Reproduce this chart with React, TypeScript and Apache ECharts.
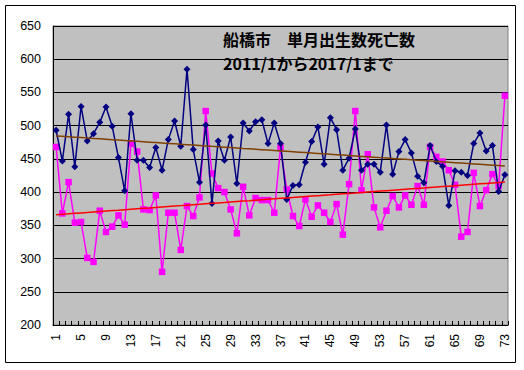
import React, { useEffect, useRef } from "react";
import * as echarts from "echarts";

const categories: string[] = Array.from({ length: 73 }, (_, i) => String(i + 1));

const births: number[] = [
  493, 447, 517, 438, 529, 477, 488, 505, 528, 499, 452, 402, 518, 448, 448, 437, 467, 433, 479, 507,
  469, 585, 464, 415, 501, 383, 477, 448, 483, 413, 504, 492, 506, 509, 473, 504, 473, 389, 410, 411,
  445, 476, 498, 442, 512, 494, 433, 451, 495, 433, 442, 442, 430, 501, 427, 461, 479, 459, 424, 414,
  470, 446, 439, 380, 432, 430, 425, 473, 489, 462, 470, 401, 426,
];

const deaths: number[] = [
  468, 368, 415, 354, 355, 301, 295, 372, 340, 348, 365, 351, 473, 461, 374, 373, 395, 280, 369, 369,
  313, 379, 364, 392, 522, 428, 406, 400, 374, 338, 408, 365, 391, 388, 388, 369, 467, 404, 364, 349,
  389, 363, 380, 369, 355, 382, 336, 412, 522, 403, 457, 377, 347, 372, 394, 377, 395, 381, 409, 381,
  468, 453, 446, 433, 411, 333, 340, 429, 379, 403, 427, 409, 545,
];

const titleLines: string[] = ["船橋市　単月出生数死亡数", "2011/1から2017/1まで"];

function linearTrend(values: number[]): number[] {
  const n = values.length;
  let sx = 0, sy = 0, sxx = 0, sxy = 0;
  values.forEach((v, i) => {
    const x = i + 1;
    sx += x; sy += v; sxx += x * x; sxy += x * v;
  });
  const b = (n * sxy - sx * sy) / (n * sxx - sx * sx);
  const a = (sy - b * sx) / n;
  return values.map((_, i) => +(a + b * (i + 1)).toFixed(2));
}

export default function App() {
  const ref = useRef<HTMLDivElement>(null);
  useEffect(() => {
    if (!ref.current) return;
    const chart = echarts.init(ref.current, null, { renderer: "svg" });
    const font = "'Liberation Sans', Arial, sans-serif";
    const titleFont = "bold 16px 'Noto Sans CJK JP', sans-serif";
    chart.setOption({
      animation: false,
      backgroundColor: "#ffffff",
      grid: {
        left: 53,
        top: 26,
        width: 455,
        height: 299,
        show: true,
        backgroundColor: "#C0C0C0",
        borderColor: "#808080",
        borderWidth: 1,
      },
      xAxis: {
        type: "category",
        data: categories,
        boundaryGap: true,
        axisLine: { show: true, lineStyle: { color: "#000", width: 1 } },
        axisTick: { show: true, inside: true, length: 4, interval: 0, lineStyle: { color: "#000" } },
        axisLabel: {
          interval: 3,
          rotate: 90,
          margin: 9,
          fontSize: 12,
          color: "#000",
          fontFamily: font,
        },
        splitLine: { show: false },
      },
      yAxis: {
        type: "value",
        min: 200,
        max: 650,
        interval: 50,
        axisLine: { show: true, lineStyle: { color: "#000", width: 1 } },
        axisTick: { show: false },
        axisLabel: { margin: 12, fontSize: 12.5, color: "#000", fontFamily: font },
        splitLine: { show: true, lineStyle: { color: "#000", width: 1 } },
      },
      series: [
        {
          name: "出生数",
          type: "line",
          data: births,
          symbol: "diamond",
          symbolSize: 7,
          showAllSymbol: true,
          lineStyle: { color: "#000080", width: 1.5 },
          itemStyle: { color: "#000080" },
          z: 3,
        },
        {
          name: "死亡数",
          type: "line",
          data: deaths,
          symbol: "rect",
          symbolSize: 6.5,
          showAllSymbol: true,
          lineStyle: { color: "#FF00FF", width: 1.5 },
          itemStyle: { color: "#FF00FF" },
          z: 2,
        },
        {
          name: "出生数傾向",
          type: "line",
          data: linearTrend(births),
          showSymbol: false,
          symbol: "none",
          lineStyle: { color: "#804000", width: 1.5 },
          z: 4,
        },
        {
          name: "死亡数傾向",
          type: "line",
          data: linearTrend(deaths),
          showSymbol: false,
          symbol: "none",
          lineStyle: { color: "#FF0000", width: 1.5 },
          z: 4,
        },
      ],
      graphic: [
        {
          type: "rect",
          shape: { x: 5.5, y: 5.5, width: 510, height: 357 },
          style: { fill: "none", stroke: "#000", lineWidth: 1 },
          z: 100,
        },
        {
          type: "text",
          x: 223,
          y: 39,
          style: { text: titleLines[0], font: titleFont, fill: "#000", verticalAlign: "middle" },
          z: 100,
        },
        {
          type: "text",
          x: 223,
          y: 62.5,
          style: { text: titleLines[1], font: titleFont, fill: "#000", verticalAlign: "middle" },
          z: 100,
        },
      ],
    });
    return () => chart.dispose();
  }, []);
  return (
    <div
      ref={ref}
      style={{ position: "absolute", left: 0, top: 0, width: 524, height: 370, background: "#fff" }}
    />
  );
}
